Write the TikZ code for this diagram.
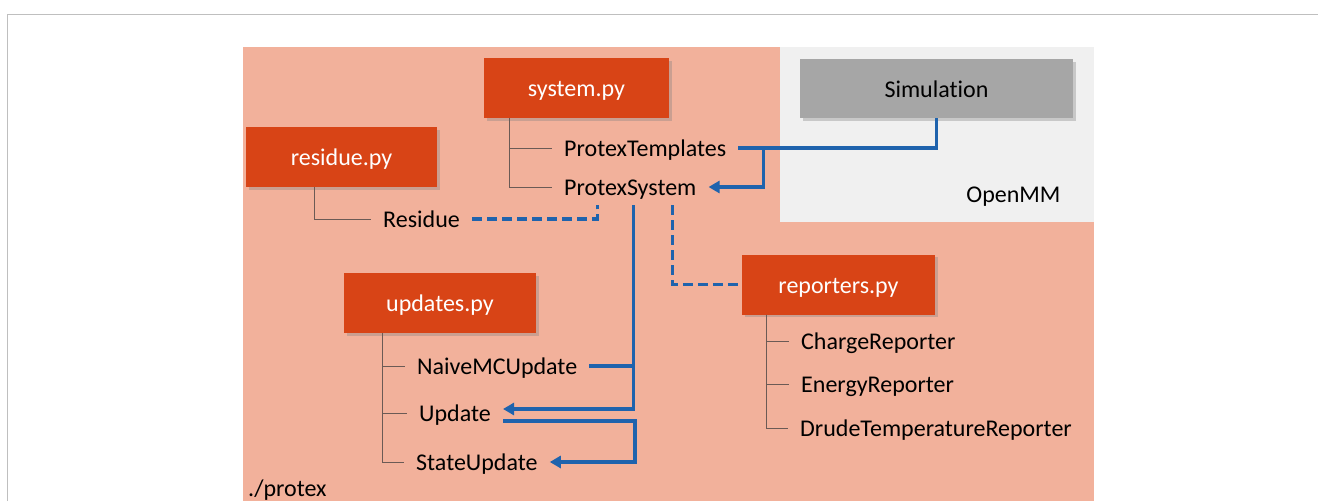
\documentclass[tikz,border=0pt]{standalone}
\usepackage{fontspec}
\setmainfont[Ligatures=NoCommon]{Carlito}
\usepackage{xcolor}
\usetikzlibrary{arrows.meta,shadows}

\definecolor{pkgfill}{HTML}{F2B19B}
\definecolor{mmfill}{HTML}{F0F0F0}
\definecolor{modfill}{HTML}{D84416}
\definecolor{simfill}{HTML}{A6A6A6}
\definecolor{flowblue}{HTML}{1F63AD}
\definecolor{treeline}{HTML}{6B5A55}
\definecolor{framegray}{HTML}{BFBFBF}

\begin{document}
\begin{tikzpicture}[x=1pt, y=-1pt,
    every node/.style={font=\fontsize{24}{29}\selectfont},
    module/.style={fill=modfill, text=white, minimum height=60pt,
      text height=20pt, text depth=3pt,
      drop shadow={shadow xshift=2.5pt, shadow yshift=-2.5pt, opacity=0.35}},
    member/.style={anchor=base west, inner xsep=12pt, inner ysep=6pt,
      text height=20pt, text depth=4pt},
    tree/.style={draw=treeline, line width=0.9pt},
    flow/.style={draw=flowblue, line width=3.2pt},
    calls/.style={flow, -{Triangle[length=11pt, width=12pt]}},
    uses/.style={flow, dash pattern=on 10pt off 5pt}]
        \useasboundingbox (0,0) rectangle (1318,501);

        % outer frame
        \draw [framegray, line width=1pt] (7,501) -- (7,14) -- (1318,14);

        % ./protex package
        \fill [pkgfill] (243,47) rectangle (1094,501);
        % OpenMM
        \fill [mmfill] (780,47) rectangle (1094,222);
        \node [anchor=base east] (openmm) at (1064,202) {OpenMM};
        \node [anchor=base west, inner sep=0pt] (protex) at (248,496) {./protex};

        % modules
        \node [module, minimum width=185pt] (systempy) at (576.5,88) {system.py};
        \node [module, minimum width=191pt] (residuepy) at (341.5,157) {residue.py};
        \node [module, minimum width=192pt] (updatespy) at (440,303) {updates.py};
        \node [module, minimum width=193pt] (reporterspy) at (838.5,284.5) {reporters.py};
        \node [module, fill=simfill, text=black, minimum width=273pt,
          minimum height=59pt] (simulation) at (936.5,88.5) {Simulation};

        % system.py
        \node [member] (templates) at (552,156) {ProtexTemplates};
        \node [member] (system) at (552,195) {ProtexSystem};
        \draw [tree] ([xshift=26pt]systempy.south west) |- (templates.west);
        \draw [tree] ([xshift=26pt]systempy.south west) |- (system.west);

        % residue.py
        \node [member] (residue) at (371,227) {Residue};
        \draw [tree] ([xshift=69pt]residuepy.south west) |- (residue.west);

        % updates.py
        \node [member] (naive) at (405,374) {NaiveMCUpdate};
        \node [member] (update) at (407,421) {Update};
        \node [member] (state) at (404,470) {StateUpdate};
        \draw [tree] ([xshift=39pt]updatespy.south west) |- (naive.west);
        \draw [tree] ([xshift=39pt]updatespy.south west) |- (update.west);
        \draw [tree] ([xshift=39pt]updatespy.south west) |- (state.west);

        % reporters.py
        \node [member] (charge) at (789,349) {ChargeReporter};
        \node [member] (energy) at (789,392) {EnergyReporter};
        \node [member] (drude) at (788,436) {DrudeTemperatureReporter};
        \draw [tree] ([xshift=25pt]reporterspy.south west) |- (charge.west);
        \draw [tree] ([xshift=25pt]reporterspy.south west) |- (energy.west);
        \draw [tree] ([xshift=25pt]reporterspy.south west) |- (drude.west);

        % Simulation -> templates -> system
        \draw [flow] (templates.east) -| (simulation.south);
        \draw [calls] ([xshift=25pt]templates.east) |- (system.east);

        % residue
        \draw [uses] (residue.east) -| ([xshift=-33pt]system.south);

        % system -> updates
        \coordinate (trunk) at ([xshift=3pt]system.south);
        \draw [calls] (trunk) |- ([yshift=4pt]update.east);
        \draw [flow] (naive.east) -- (naive.east -| trunk);
        \draw [calls] ([yshift=-8pt]update.east) -- ++(132,0) |- (state.east);

        % system -> reporters
        \draw [uses] ([xshift=42pt]system.south) |- (reporterspy.west);

      \end{tikzpicture}
\end{document}
